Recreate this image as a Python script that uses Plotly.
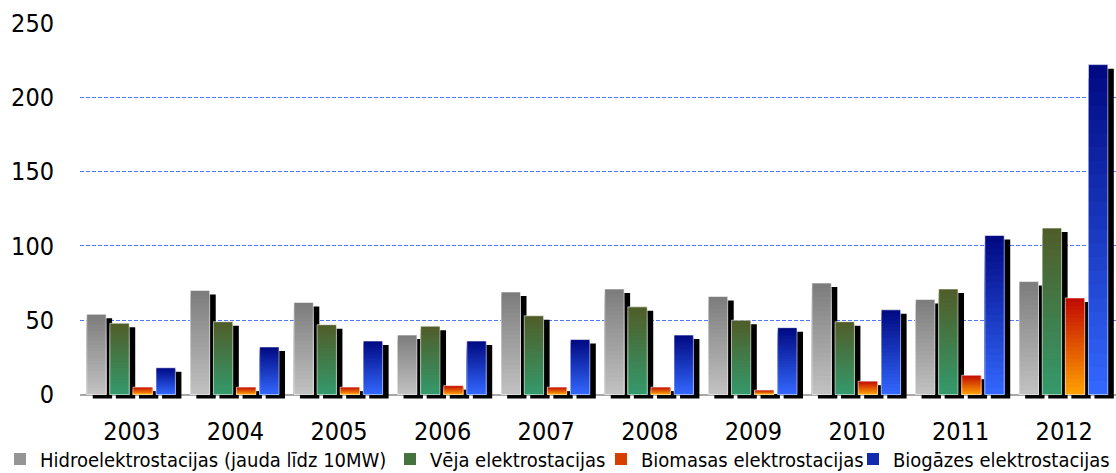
import numpy as np
import plotly.graph_objects as go

years = ["2003", "2004", "2005", "2006", "2007", "2008", "2009", "2010", "2011", "2012"]
hydro = [54, 70, 62, 40, 69, 71, 66, 75, 64, 76]
wind = [48, 49, 47, 46, 53, 59, 50, 49, 71, 112]
biomass = [5, 5, 5, 6, 5, 5, 3, 9, 13, 65]
biogas = [18, 32, 36, 36, 37, 40, 45, 57, 107, 222]

series_names = [
    "Hidroelektrostacijas (jauda līdz 10MW)",
    "Vēja elektrostacijas",
    "Biomasas elektrostacijas",
    "Biogāzes elektrostacijas",
]
series_values = [hydro, wind, biomass, biogas]

# gradient colours, top of bar -> bottom of bar
GRADIENTS = [
    ((0x7c, 0x7c, 0x7c), (0xc2, 0xc2, 0xc2)),
    ((0x50, 0x5c, 0x28), (0x34, 0x9a, 0x6c)),
    ((0xc0, 0x08, 0x00), (0xff, 0xa2, 0x00)),
    ((0x00, 0x08, 0x80), (0x33, 0x68, 0xff)),
]
# left edge (px) where each legend entry's text starts
LEGEND_TEXT_X = [40, 430, 641, 893]
WIDTH, HEIGHT = 1116, 473
BAR_WIDTH = 0.187
BAR_STEP = 0.223
FIRST_OFFSET = -0.435
SHADOW_DX = 0.058
SHADOW_DY = 2.7
BANDS = 24
FONT = "DejaVu Sans Condensed, DejaVu Sans, sans-serif"


def mix(c0, c1, t):
    return "rgb(%d,%d,%d)" % tuple(round(a + (b - a) * t) for a, b in zip(c0, c1))


fig = go.Figure()
for s, (name, values) in enumerate(zip(series_names, series_values)):
    vals = np.array(values, dtype=float)
    offset = FIRST_OFFSET + s * BAR_STEP
    top, bottom = GRADIENTS[s]
    legend_id = "legend" if s == 0 else "legend%d" % (s + 1)

    fig.add_trace(
        go.Bar(
            x=years,
            y=vals,
            base=-SHADOW_DY,
            width=BAR_WIDTH,
            offset=offset + SHADOW_DX,
            marker=dict(color="black", line=dict(width=0)),
            hoverinfo="skip",
            showlegend=False,
        )
    )
    for k in range(BANDS):
        frac = (BANDS - k) / BANDS
        t = (k + 0.5) / BANDS
        fig.add_trace(
            go.Bar(
                x=years,
                y=vals * frac,
                width=BAR_WIDTH,
                offset=offset,
                marker=dict(color=mix(top, bottom, t), line=dict(width=0)),
                name=name,
                legend=legend_id,
                showlegend=(k == BANDS // 3),
                hoverinfo="skip",
            )
        )
    fig.add_trace(
        go.Bar(
            x=years,
            y=vals,
            width=BAR_WIDTH,
            offset=offset,
            marker=dict(color="rgba(0,0,0,0)", line=dict(color="rgba(255,255,255,0.55)", width=1)),
            name=name,
            showlegend=False,
            hovertemplate="%{x}: %{y}<extra>" + name + "</extra>",
        )
    )

# one small legend per series so each entry sits where the original puts it
legends = {}
for s, text_x in enumerate(LEGEND_TEXT_X):
    legend_id = "legend" if s == 0 else "legend%d" % (s + 1)
    legends[legend_id] = dict(
        orientation="h",
        xref="container",
        yref="container",
        x=max(text_x - 40, 0) / WIDTH,
        y=14 / HEIGHT,
        xanchor="left",
        yanchor="middle",
        font=dict(size=20, family=FONT, color="black"),
        itemwidth=30,
        bgcolor="rgba(0,0,0,0)",
    )

fig.update_layout(
    barmode="overlay",
    width=WIDTH,
    height=HEIGHT,
    paper_bgcolor="white",
    plot_bgcolor="white",
    margin=dict(l=80, r=0, t=23, b=74, autoexpand=False),
    font=dict(family=FONT, size=24, color="black"),
    **legends,
)
fig.update_xaxes(
    range=[-0.5, 9.5],
    automargin=False,
    showgrid=False,
    showline=False,
    ticks="",
    ticklabelstandoff=15,
    tickfont=dict(size=25),
)
fig.update_yaxes(
    range=[-3, 250],
    automargin=False,
    tickvals=[0, 50, 100, 150, 200, 250],
    showgrid=True,
    gridcolor="#5078ff",
    griddash="4px,2px",
    gridwidth=1,
    zeroline=True,
    zerolinecolor="#a8a8a8",
    zerolinewidth=2,
    showline=False,
    ticks="",
    ticklabelstandoff=25,
    tickfont=dict(size=25),
)

# the page body has a default 8px margin; drop it so the figure fills the window
fig.write_html(
    "out.html",
    config={"displayModeBar": False},
    post_script="document.body.style.margin = '0';",
)
